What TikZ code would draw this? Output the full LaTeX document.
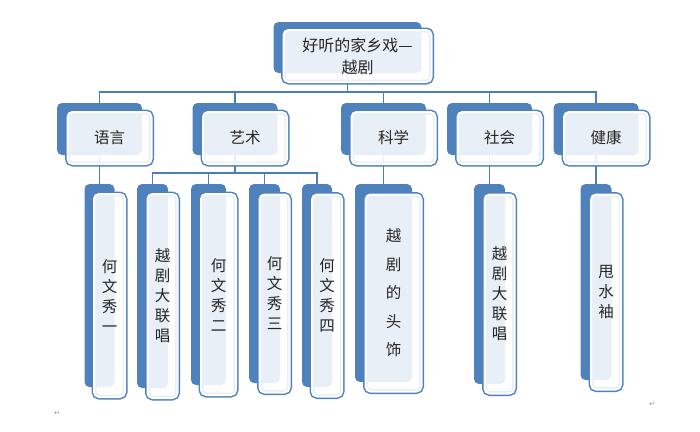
\documentclass[tikz,border=0pt]{standalone}
\usepackage{fontspec}
\newfontfamily\zhfont{Noto Sans CJK SC}
\newfontfamily\symfont{DejaVu Sans}
\usetikzlibrary{calc,backgrounds}
\definecolor{lan}{HTML}{4F81BD}
\definecolor{xian}{HTML}{4A7EBB}
\definecolor{wenzi}{HTML}{262626}

\begin{document}
\begin{tikzpicture}[x=1pt,y=-1pt,
  backbox/.style={fill=lan,rounded corners=5pt,inner sep=0pt,outer sep=0pt},
  frontbox/.style={rounded corners=5pt,inner sep=0pt,outer sep=0pt,
    fill=white,fill opacity=.88,text opacity=1,
    preaction={draw=lan,line width=5pt},draw=white,line width=2pt,
    align=center,text=wenzi,font=\zhfont\fontsize{15.5}{20}\selectfont},
  linkline/.style={draw=xian,line width=1.8pt},
  pilcrow/.style={text=black!45,font=\symfont\fontsize{7}{7}\selectfont,inner sep=0pt}]
\useasboundingbox (0,0) rectangle (700,431);

% top
\node[backbox,minimum width=148pt,minimum height=51pt] (ting-b) at (347.5,47.5) {};
% level one
\node[backbox,minimum width=85pt,minimum height=52pt] (yuyan-b)    at (99.5,129)  {};
\node[backbox,minimum width=85pt,minimum height=52pt] (yishu-b)    at (235,129)   {};
\node[backbox,minimum width=85pt,minimum height=52pt] (kexue-b)    at (383.5,129) {};
\node[backbox,minimum width=85pt,minimum height=52pt] (shehui-b)   at (489.5,129) {};
\node[backbox,minimum width=85pt,minimum height=52pt] (jiankang-b) at (596,129)   {};
% level two
\node[backbox,anchor=north,minimum width=30pt,minimum height=203pt] (yu1-b) at (99.5,184)  {};
\node[backbox,anchor=north,minimum width=31pt,minimum height=204pt] (ys1-b) at (152.5,184) {};
\node[backbox,anchor=north,minimum width=35pt,minimum height=201pt] (ys2-b) at (208.5,184) {};
\node[backbox,anchor=north,minimum width=31pt,minimum height=199pt] (ys3-b) at (264.5,184) {};
\node[backbox,anchor=north,minimum width=30pt,minimum height=203pt] (ys4-b) at (317,184)   {};
\node[backbox,anchor=north,minimum width=57pt,minimum height=198pt] (kx1-b) at (383.5,184) {};
\node[backbox,anchor=north,minimum width=31pt,minimum height=200pt] (sh1-b) at (489.5,184) {};
\node[backbox,anchor=north,minimum width=31pt,minimum height=196pt] (jk1-b) at (596,184)   {};

\node[frontbox,minimum width=148pt,minimum height=52pt,font=\zhfont\fontsize{16}{22}\selectfont]
  (ting) at ($(ting-b)+(10,8.5)$) {好听的家乡戏—\\越剧};
\node[frontbox,minimum width=84pt,minimum height=52pt] (yuyan)    at ($(yuyan-b)+(10,9)$)    {语言};
\node[frontbox,minimum width=84pt,minimum height=52pt] (yishu)    at ($(yishu-b)+(10,9)$)    {艺术};
\node[frontbox,minimum width=84pt,minimum height=52pt] (kexue)    at ($(kexue-b)+(10,9)$)    {科学};
\node[frontbox,minimum width=84pt,minimum height=52pt] (shehui)   at ($(shehui-b)+(10,9)$)   {社会};
\node[frontbox,minimum width=84pt,minimum height=52pt] (jiankang) at ($(jiankang-b)+(10,9)$) {健康};

\node[frontbox,minimum width=31pt,minimum height=203pt] (yu1) at ($(yu1-b)+(10,10)$) {何\\文\\秀\\一};
\node[frontbox,minimum width=30pt,minimum height=204pt] (ys1) at ($(ys1-b)+(10,10)$) {越\\剧\\大\\联\\唱};
\node[frontbox,minimum width=35pt,minimum height=201pt] (ys2) at ($(ys2-b)+(10,10)$) {何\\文\\秀\\二};
\node[frontbox,minimum width=30pt,minimum height=198pt] (ys3) at ($(ys3-b)+(10,10)$) {何\\文\\秀\\三};
\node[frontbox,minimum width=30pt,minimum height=202pt] (ys4) at ($(ys4-b)+(10,10)$) {何\\文\\秀\\四};
\node[frontbox,minimum width=56pt,minimum height=197pt,font=\zhfont\fontsize{15.5}{28.5}\selectfont]
  (kx1) at ($(kx1-b)+(10,10)$) {越\\剧\\的\\头\\饰};
\node[frontbox,minimum width=30pt,minimum height=199pt] (sh1) at ($(sh1-b)+(10,10)$) {越\\剧\\大\\联\\唱};
\node[frontbox,minimum width=30pt,minimum height=195pt] (jk1) at ($(jk1-b)+(10,10)$) {甩\\水\\袖};

\node[pilcrow] (ret1) at (57,413)  {↵};
\node[pilcrow] (ret2) at (652,404) {↵};

\begin{scope}[on background layer]
\foreach \n in {yuyan,yishu,kexue,shehui,jiankang}
  \draw[linkline] (ting-b) |- ($(ting-b.south)+(0,19)$) -| (\n-b);
\foreach \n in {ys1,ys2,ys3,ys4}
  \draw[linkline] (yishu-b) |- ($(yishu-b.south)+(0,18)$) -| (\n-b);
\draw[linkline] (yuyan-b)    -- (yu1-b);
\draw[linkline] (kexue-b)    -- (kx1-b);
\draw[linkline] (shehui-b)   -- (sh1-b);
\draw[linkline] (jiankang-b) -- (jk1-b);
\end{scope} %-links-%
\end{tikzpicture}
\end{document}
